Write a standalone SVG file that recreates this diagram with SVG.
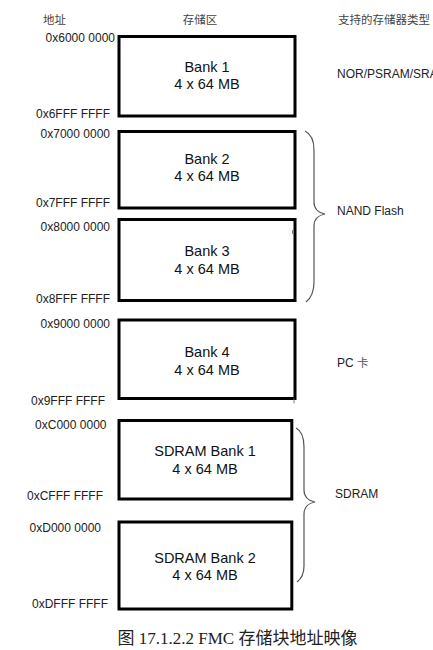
<svg xmlns="http://www.w3.org/2000/svg" width="433" height="650" viewBox="0 0 433 650">
<style>
.box{fill:#fff;stroke:#000;stroke-width:3}
.bt{font-family:"Liberation Sans",Arial,sans-serif;font-size:14.5px;fill:#111;text-anchor:middle}
.addr{font-family:"Liberation Sans",Arial,sans-serif;font-size:12px;fill:#222;text-anchor:end}
.lab{font-family:"Liberation Sans",Arial,sans-serif;font-size:12px;fill:#222}
.hd{font-family:"Noto Sans CJK SC",sans-serif;font-size:11.5px;fill:#444}
.br{fill:none;stroke:#555;stroke-width:1.2}
.cap{font-family:"Liberation Serif","Noto Sans CJK SC",serif;font-size:17px;fill:#222;text-anchor:middle}
</style>
<rect width="433" height="650" fill="#fff"/>
<g id="headers">
<text class="hd" x="43" y="24">地址</text>
<text class="hd" x="200" y="24" text-anchor="middle">存储区</text>
<text class="hd" x="338" y="24">支持的存储器类型</text>
</g>
<g id="bank1">
<rect class="box" x="119" y="36.5" width="176" height="79.5"/>
<text class="bt" x="207" y="71.5">Bank 1</text>
<text class="bt" x="207" y="88.5">4 x 64 MB</text>
<text class="addr" x="115" y="41.5">0x6000 0000</text>
<text class="addr" x="110" y="118">0x6FFF FFFF</text>
</g>
<g id="bank2">
<rect class="box" x="119" y="131.5" width="176" height="76.5"/>
<text class="bt" x="207" y="163.5">Bank 2</text>
<text class="bt" x="207" y="181">4 x 64 MB</text>
<text class="addr" x="110" y="138">0x7000 0000</text>
<text class="addr" x="110" y="206.5">0x7FFF FFFF</text>
</g>
<g id="bank3">
<rect class="box" x="119" y="219.5" width="176" height="81"/>
<text class="bt" x="207" y="256">Bank 3</text>
<text class="bt" x="207" y="273.5">4 x 64 MB</text>
<text class="addr" x="110" y="230.5">0x8000 0000</text>
<text class="addr" x="110" y="303">0x8FFF FFFF</text>
<line x1="292.5" y1="230" x2="292.5" y2="234" stroke="#666" stroke-width="0.8"/>
</g>
<g id="bank4">
<rect class="box" x="119" y="320" width="176" height="78.5"/>
<text class="bt" x="207" y="357">Bank 4</text>
<text class="bt" x="207" y="375">4 x 64 MB</text>
<text class="addr" x="110" y="328">0x9000 0000</text>
<text class="addr" x="105" y="404.5">0x9FFF FFFF</text>
<line x1="294" y1="398" x2="294" y2="403.5" stroke="#666" stroke-width="0.8"/>
</g>
<g id="sdram1">
<rect class="box" x="119" y="420.5" width="172.8" height="78.5"/>
<text class="bt" x="205" y="456">SDRAM Bank 1</text>
<text class="bt" x="205" y="473.5">4 x 64 MB</text>
<text class="addr" x="106.5" y="428.5">0xC000 0000</text>
<text class="addr" x="103" y="500">0xCFFF FFFF</text>
</g>
<g id="sdram2">
<rect class="box" x="119" y="522" width="172.8" height="87"/>
<text class="bt" x="205" y="562.5">SDRAM Bank 2</text>
<text class="bt" x="205" y="579.5">4 x 64 MB</text>
<text class="addr" x="101" y="531.5">0xD000 0000</text>
<text class="addr" x="108" y="608">0xDFFF FFFF</text>
</g>
<g id="types">
<text class="lab" x="337" y="78">NOR/PSRAM/SRAM</text>
<text class="lab" x="337" y="215">NAND Flash</text>
<text class="lab" x="337" y="367">PC <tspan font-family="Noto Sans CJK SC,sans-serif" font-size="11.5" fill="#555">卡</tspan></text>
<text class="lab" x="335" y="498">SDRAM</text>
</g>
<g id="connectors">
<path class="br" d="M305,131 C311,134 314,140 314,150 L314,202 C314,209 319,213 325,214 C319,215 314,219 314,226 L314,282 C314,292 311,298 306,302"/>
<path class="br" d="M296,428 C302,431 304,438 304,447 L304,490 C304,497 309,501 315,502 C309,503 304,507 304,514 L304,566 C304,574 301,579 297,582"/>
</g>
<g id="caption">
<text class="cap" x="237.5" y="644">图 17.1.2.2 FMC 存储块地址映像</text>
</g>
</svg>
